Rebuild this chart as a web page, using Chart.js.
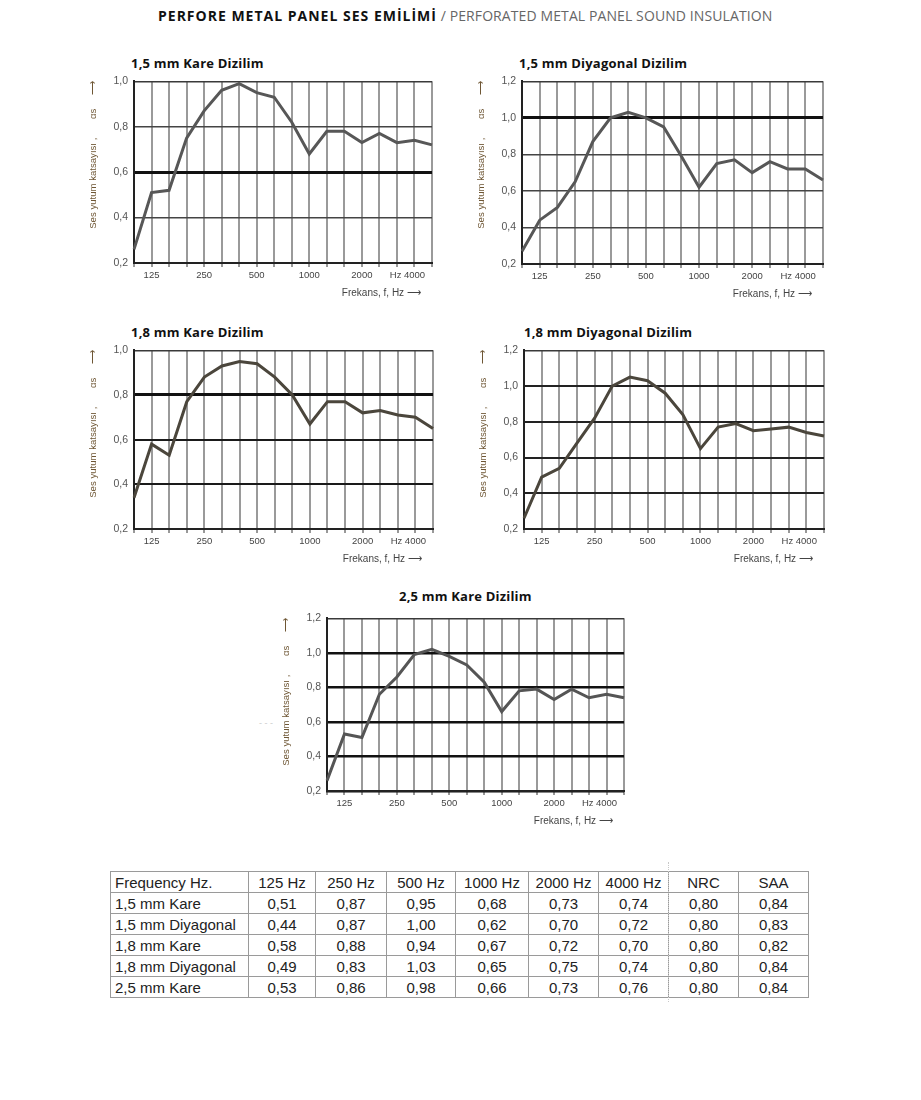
<!DOCTYPE html>
<html>
<head>
<meta charset="utf-8">
<script src="https://cdn.jsdelivr.net/npm/chart.js@4.4.1/dist/chart.umd.min.js"></script>
<style>
  body { margin: 0; background: #fff; width: 921px; height: 1100px; position: relative; overflow: hidden; }
  .main-title { position: absolute; top: 6px; left: 158px; font-family: "Open Sans", sans-serif; font-size: 14px; white-space: nowrap; }
  .main-title b { color: #111; font-weight: 700; letter-spacing: 1px; }
  .main-title span { color: #666; letter-spacing: 0.1px; }
  .panel-title { position: absolute; font-family: "Open Sans", sans-serif; font-weight: 700; font-size: 13px; letter-spacing: 0.2px; color: #111; white-space: nowrap; }
  .panel { position: absolute; }
  .stray { position: absolute; left: 259px; top: 718px; font-family: "Liberation Sans", sans-serif; font-size: 9px; color: #ccc; }
  table.values { position: absolute; left: 110px; top: 871px; width: 698px; table-layout: fixed; border-collapse: collapse; font-family: "Liberation Sans", Arial, sans-serif; font-size: 15px; color: #222; }
  table.values td { border: 1px solid #9a9a9a; height: 21px; padding: 0; text-align: center; line-height: 19px; box-sizing: border-box; white-space: nowrap; overflow: hidden; }
  table.values td:first-child { text-align: left; padding-left: 4px; }
  table.values td.nrc { border-left: 1px dotted #c8c8c8; }
  .dots { position: absolute; left: 668px; top: 862px; height: 140px; border-left: 1px dotted #c8c8c8; }
</style>
</head>
<body>
<div class="main-title"><b>PERFORE METAL PANEL SES EMİLİMİ</b><span> / PERFORATED METAL PANEL SOUND INSULATION</span></div>

<div class="panel-title" style="left:131px; top:54px;">1,5 mm Kare Dizilim</div>
<div class="panel-title" style="left:519px; top:54px;">1,5 mm Diyagonal Dizilim</div>
<div class="panel-title" style="left:131px; top:323px;">1,8 mm Kare Dizilim</div>
<div class="panel-title" style="left:524px; top:323px;">1,8 mm Diyagonal Dizilim</div>
<div class="panel-title" style="left:399px; top:587px;">2,5 mm Kare Dizilim</div>

<canvas id="kare15" class="panel" style="left:86px; top:69px;" width="358" height="230"></canvas>
<canvas id="diyagonal15" class="panel" style="left:474px; top:69px;" width="361" height="231"></canvas>
<canvas id="kare18" class="panel" style="left:86px; top:338px;" width="359" height="227"></canvas>
<canvas id="diyagonal18" class="panel" style="left:476px; top:338px;" width="360" height="227"></canvas>
<canvas id="kare25" class="panel" style="left:279px; top:606px;" width="357" height="221"></canvas>
<div class="stray">- - -</div>

<table class="values" id="valuesTable"></table>
<div class="dots"></div>

<script>
// Third-octave band centre frequencies (one point per vertical grid line)
const frequencies = ["100", "125", "160", "200", "250", "315", "400", "500", "630", "800", "1000", "1250", "1600", "2000", "2500", "3150", "4000", "5000"]
const tickLabels = ["", "125", "", "", "250", "", "", "500", "", "", "1000", "", "", "2000", "", "Hz\u00A0", "4000", ""]

// Absorption curves
const kare15 = [0.26, 0.51, 0.52, 0.75, 0.87, 0.96, 0.99, 0.95, 0.93, 0.82, 0.68, 0.78, 0.78, 0.73, 0.77, 0.73, 0.74, 0.72]
const diyagonal15 = [0.27, 0.44, 0.51, 0.65, 0.87, 1.00, 1.03, 1.00, 0.95, 0.79, 0.62, 0.75, 0.77, 0.70, 0.76, 0.72, 0.72, 0.66]
const kare18 = [0.34, 0.58, 0.53, 0.77, 0.88, 0.93, 0.95, 0.94, 0.88, 0.80, 0.67, 0.77, 0.77, 0.72, 0.73, 0.71, 0.70, 0.65]
const diyagonal18 = [0.26, 0.49, 0.54, 0.68, 0.82, 1.00, 1.05, 1.03, 0.96, 0.84, 0.65, 0.77, 0.79, 0.75, 0.76, 0.77, 0.74, 0.72]
const kare25 = [0.26, 0.53, 0.51, 0.76, 0.86, 0.99, 1.02, 0.98, 0.93, 0.83, 0.66, 0.78, 0.79, 0.73, 0.79, 0.74, 0.76, 0.74]

// y axis limits per graph
const yMinAll = 0.2
const yMaxKare15 = 1.0
const yMaxDiyagonal15 = 1.2
const yMaxKare18 = 1.0
const yMaxDiyagonal18 = 1.2
const yMaxKare25 = 1.2

// Summary table
const tableHeader = ["Frequency Hz.", "125 Hz", "250 Hz", "500 Hz", "1000 Hz", "2000 Hz", "4000 Hz", "NRC", "SAA"]
const rowNames = ["1,5 mm Kare", "1,5 mm Diyagonal", "1,8 mm Kare", "1,8 mm Diyagonal", "2,5 mm Kare"]
const row15Kare = [0.51, 0.87, 0.95, 0.68, 0.73, 0.74, 0.80, 0.84]
const row15Diyagonal = [0.44, 0.87, 1.00, 0.62, 0.70, 0.72, 0.80, 0.83]
const row18Kare = [0.58, 0.88, 0.94, 0.67, 0.72, 0.70, 0.80, 0.82]
const row18Diyagonal = [0.49, 0.83, 1.03, 0.65, 0.75, 0.74, 0.80, 0.84]
const row25Kare = [0.53, 0.86, 0.98, 0.66, 0.73, 0.76, 0.80, 0.84]

const comma = (v, d) => v.toFixed(d).replace(".", ",")
const nb = (n) => "\u00A0".repeat(n)

// draws one absorption graph
function drawPanel(id, values, yMax, style) {
  const ctx = document.getElementById(id).getContext("2d")

  new Chart(ctx, {
    type: "line",
    data: {
      labels: frequencies,
      datasets: [
        {
          data: values,
          borderColor: style.line,
          borderWidth: 3,
          pointRadius: 0,
          tension: 0,
          fill: false,
        },
      ],
    },
    options: {
      responsive: false,
      animation: false,
      events: [],
      layout: { padding: { top: 8, right: 12, left: 0, bottom: 0 } },
      plugins: { legend: { display: false }, tooltip: { enabled: false } },
      scales: {
        x: {
          type: "category",
          offset: false,
          afterFit: (s) => { s.height = 36 },
          grid: {
            color: "#9a9a9a",
            lineWidth: 2,
            drawTicks: true,
            tickLength: 4,
            tickColor: "#333",
            tickWidth: 1,
          },
          border: { color: "#222", width: 2 },
          ticks: {
            autoSkip: false,
            maxRotation: 0,
            padding: 3,
            color: "#444",
            font: { family: "Liberation Sans", size: 9.5 },
            callback: (value, i) => tickLabels[i],
          },
          title: {
            display: true,
            text: "Frekans, f, Hz \u27F6" + nb(4),
            align: "end",
            color: "#444",
            font: { family: "Liberation Sans", size: 10 },
            padding: { top: 0, bottom: 0 },
          },
        },
        y: {
          min: yMinAll,
          max: yMax,
          afterFit: (s) => { s.width = 48 },
          grid: {
            drawTicks: false,
            color: (c) => {
              const v = Math.round(c.tick.value * 10) / 10
              if (v === style.heavy) return "#111"
              if (v === yMax) return "#3a3a3a"
              return style.grid
            },
            lineWidth: (c) => {
              const v = Math.round(c.tick.value * 10) / 10
              if (v === style.heavy) return 3
              if (v === yMax) return 1.5
              return style.gridWidth
            },
          },
          border: { color: "#222", width: 2 },
          ticks: {
            stepSize: 0.2,
            padding: 6,
            color: "#555",
            font: { family: "Liberation Sans", size: 10.5 },
            callback: (value) => comma(value, 1),
          },
          title: {
            display: true,
            text: "Ses yutum katsayısı ," + nb(7) + "αs" + nb(5) + "\u27F6",
            align: "end",
            color: "#6e5634",
            font: { family: "Liberation Sans", size: 9.6 },
            padding: { top: 2, bottom: 0 },
          },
        },
      },
    },
  })
}

drawPanel("kare15", kare15, yMaxKare15, { line: "#575757", heavy: 0.6, grid: "#444", gridWidth: 1.6 })
drawPanel("diyagonal15", diyagonal15, yMaxDiyagonal15, { line: "#575757", heavy: 1.0, grid: "#444", gridWidth: 1.6 })
drawPanel("kare18", kare18, yMaxKare18, { line: "#4b463c", heavy: 0.8, grid: "#1a1a1a", gridWidth: 2 })
drawPanel("diyagonal18", diyagonal18, yMaxDiyagonal18, { line: "#4b463c", heavy: null, grid: "#222", gridWidth: 2 })
drawPanel("kare25", kare25, yMaxKare25, { line: "#555", heavy: null, grid: "#111", gridWidth: 2.4 })

// Summary table
function buildTable() {
  const table = document.getElementById("valuesTable")
  const widths = [138, 67, 71, 69, 73, 70, 70, 70, 70]
  const rows = [row15Kare, row15Diyagonal, row18Kare, row18Diyagonal, row25Kare]

  let html = "<colgroup>" + widths.map((w) => `<col style="width:${w}px">`).join("") + "</colgroup><tr>"
  tableHeader.forEach((h, i) => {
    html += `<td class="${i === 7 ? "nrc" : ""}">${h}</td>`
  })
  html += "</tr>"

  rows.forEach((row, r) => {
    html += `<tr><td>${rowNames[r]}</td>`
    row.forEach((v, i) => {
      html += `<td class="${i === 6 ? "nrc" : ""}">${comma(v, 2)}</td>`
    })
    html += "</tr>"
  })
  table.innerHTML = html
}

buildTable()
</script>
</body>
</html>
